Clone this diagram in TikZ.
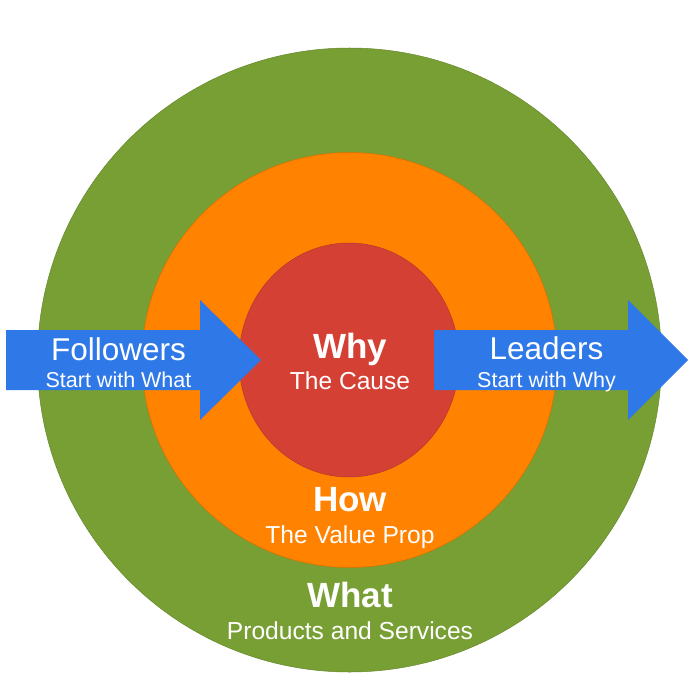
\documentclass[tikz,border=0pt]{standalone}
\usepackage{fontspec}
\setmainfont{Liberation Sans}
\definecolor{whatgreen}{RGB}{120,159,52}
\definecolor{howorange}{RGB}{255,130,0}
\definecolor{whyred}{RGB}{212,65,52}
\definecolor{arrowblue}{RGB}{47,120,232}
\tikzset{
  ring/.style={line width=0.5pt},
  title/.style={anchor=base,inner sep=0pt,text=white,font=\fontsize{35}{40}\selectfont\bfseries},
  sub/.style={anchor=base,inner sep=0pt,text=white,font=\fontsize{24.6}{28}\selectfont},
  arrowtitle/.style={anchor=base,inner sep=0pt,text=white,font=\fontsize{31.5}{36}\selectfont},
  arrowsub/.style={anchor=base,inner sep=0pt,text=white,font=\fontsize{21.5}{25}\selectfont}
}
\begin{document}
\begin{tikzpicture}[x=1pt,y=-1pt]
    \useasboundingbox (0,0) rectangle (695,695);
    \coordinate (c) at (349.5,360);
    % the three rings
    \filldraw[ring,fill=whatgreen,draw=whatgreen!85!black] (c) circle (312);
    \filldraw[ring,fill=howorange,draw=howorange!85!black] (c) circle (207.5);
    \filldraw[ring,fill=whyred,draw=whyred!85!black] (349,360) ellipse (110 and 117);
    % arrows
    \fill[arrowblue] (6,330) -- (200,330) -- (200,300) -- (261,360) -- (200,420) -- (200,390) -- (6,390) -- cycle;
    \fill[arrowblue] (434,330) -- (628,330) -- (628,300) -- (688,360) -- (628,420) -- (628,390) -- (434,390) -- cycle;
    % texts
    \node[title] (why) at (350,358) {Why};
    \node[sub] (cause) at (350,389) {The Cause};
    \node[title] (how) at (350,511) {How};
    \node[sub] (prop) at (350,543) {The Value Prop};
    \node[title] (what) at (350,607) {What};
    \node[sub] (products) at (350,639) {Products and Services};
    \node[arrowtitle] (followers) at (118.5,360) {Followers};
    \node[arrowsub] (startwhat) at (118.5,387) {Start with What};
    \node[arrowtitle] (leaders) at (546.5,359) {Leaders};
    \node[arrowsub] (startwhy) at (546.5,387) {Start with Why};
\end{tikzpicture}
\end{document}
